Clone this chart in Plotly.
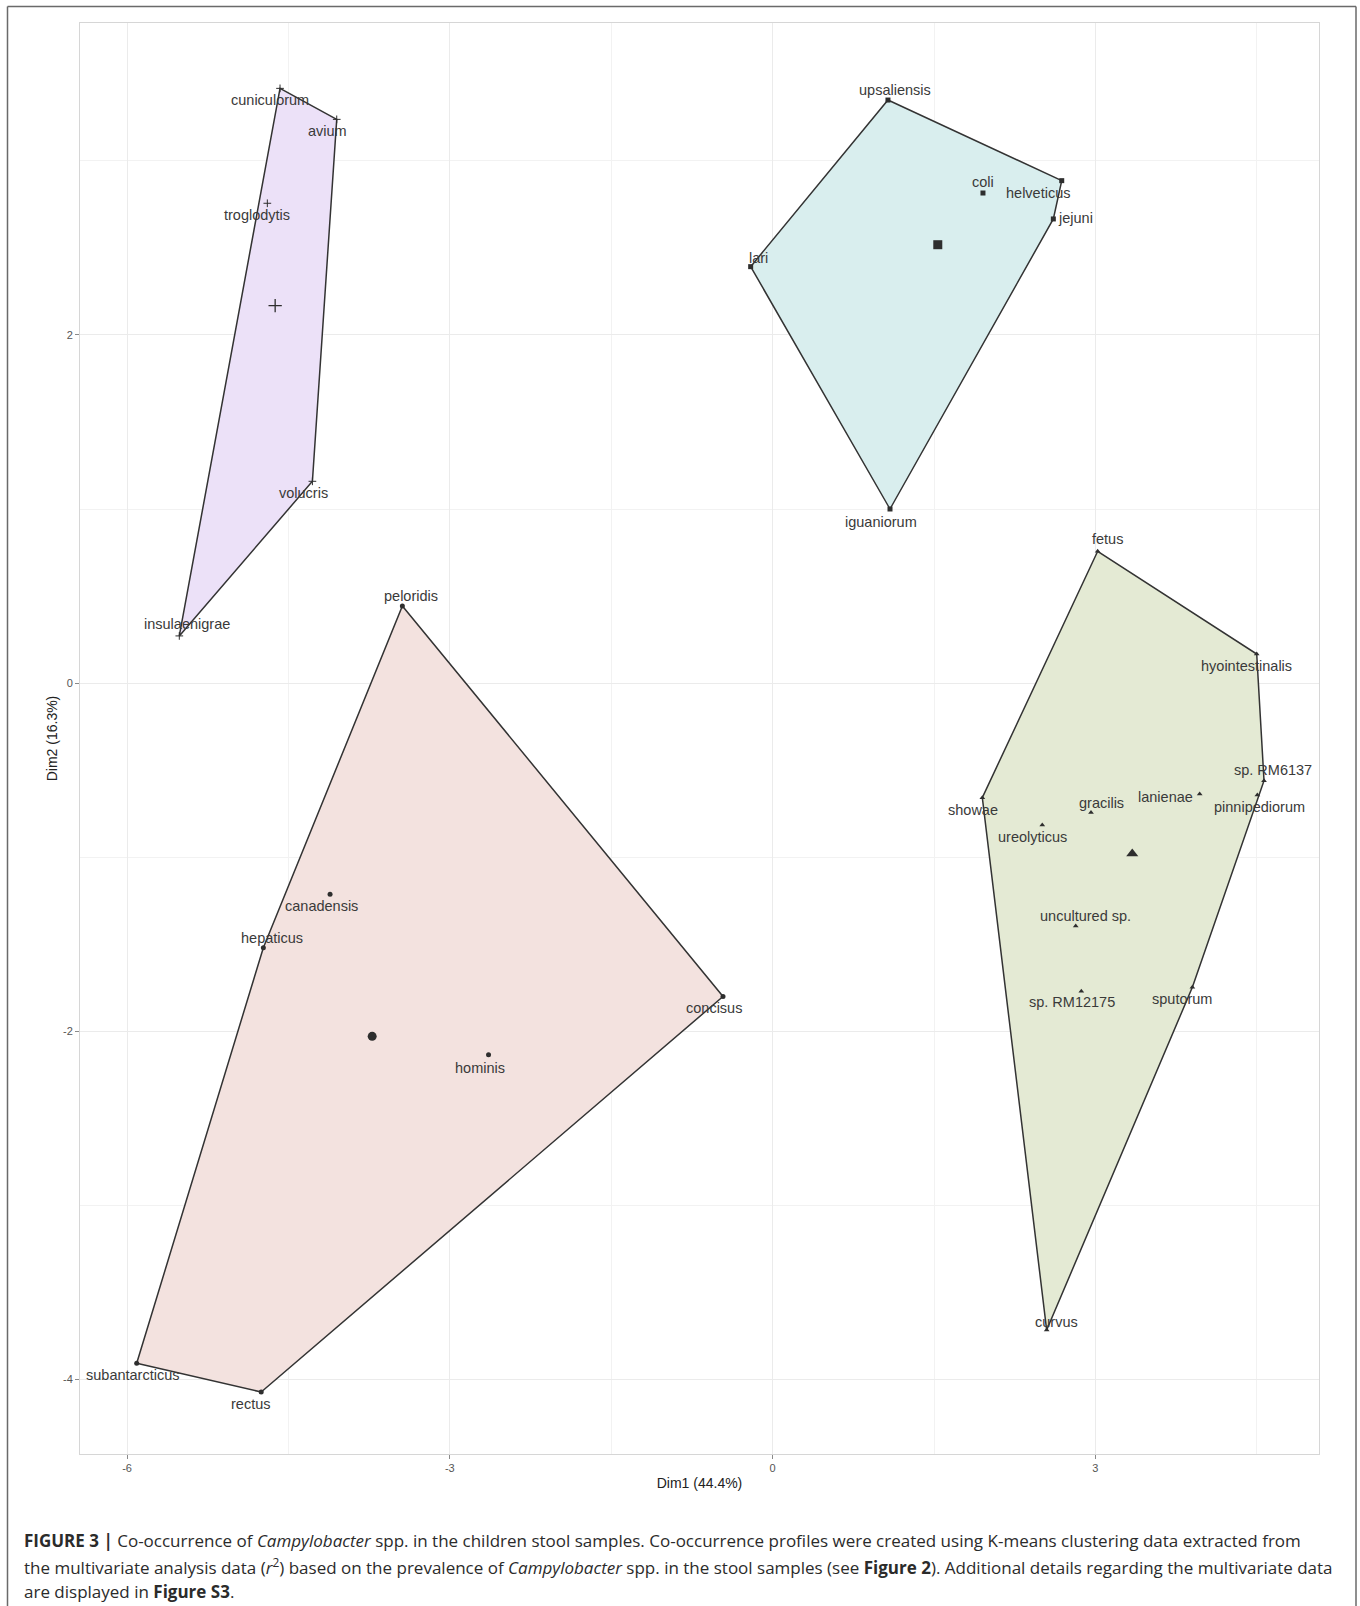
import plotly.graph_objects as go

# ---------------- data ----------------
purple_names = ["cuniculorum", "avium", "troglodytis", "volucris", "insulaenigrae"]
purple_x = [-4.578, -4.051, -4.696, -4.277, -5.514]
purple_y = [3.416, 3.238, 2.756, 1.159, 0.271]

cyan_names = ["upsaliensis", "helveticus", "coli", "jejuni", "lari", "iguaniorum"]
cyan_x = [1.072, 2.687, 1.955, 2.609, -0.204, 1.091]
cyan_y = [3.349, 2.886, 2.815, 2.666, 2.392, 1.000]

red_names = ["peloridis", "canadensis", "hepaticus", "concisus", "hominis",
             "subantarcticus", "rectus"]
red_x = [-3.441, -4.113, -4.733, -0.461, -2.640, -5.910, -4.753]
red_y = [0.443, -1.213, -1.520, -1.800, -2.135, -3.907, -4.072]

green_names = ["fetus", "hyointestinalis", "sp. RM6137", "pinnipediorum", "lanienae",
               "showae", "gracilis", "ureolyticus", "uncultured sp.", "sp. RM12175",
               "sputorum", "curvus"]
green_x = [3.021, 4.499, 4.567, 4.505, 3.969, 1.949, 2.959, 2.506, 2.817, 2.869,
           3.901, 2.547]
green_y = [0.757, 0.167, -0.561, -0.643, -0.637, -0.658, -0.744, -0.815, -1.395,
           -1.770, -1.747, -3.716]

x_ticks = [-6, -3, 0, 3]
y_ticks = [-4, -2, 0, 2]
x_title = "Dim1 (44.4%)"
y_title = "Dim2 (16.3%)"

caption_lines = [
    "<b>FIGURE 3 |</b> Co-occurrence of <i>Campylobacter</i> spp. in the children stool samples. "
    "Co-occurrence profiles were created using K-means clustering data extracted from",
    "the multivariate analysis data (<i>r</i><sup>2</sup>) based on the prevalence of "
    "<i>Campylobacter</i> spp. in the stool samples (see <b>Figure 2</b>). Additional details "
    "regarding the multivariate data",
    "are displayed in <b>Figure S3</b>.",
]

# ---------------- styling / layout ----------------
W, H = 1360, 1606
L, R, T, B = 80, 41, 23, 152
PW, PH = W - L - R, H - T - B
X_RANGE = [-6.437, 5.078]
Y_RANGE = [-4.428, 3.7915]

FONT = "Liberation Sans, Arial, Helvetica, sans-serif"
CAP_FONT = "Open Sans, Liberation Sans, Arial, sans-serif"
LINE_COL = "#333333"
PT_COL = "#2e2e2e"

# label offsets in pixels (dx right, dy down) – placement style only
label_offsets = {
    "cuniculorum": (-10, 12), "avium": (-9, 12), "troglodytis": (-10, 12),
    "volucris": (-9, 12), "insulaenigrae": (8, -12),
    "upsaliensis": (7, -10), "helveticus": (-24, 12), "coli": (0, -11),
    "jejuni": (22, -1), "lari": (8, -9), "iguaniorum": (-9, 13),
    "peloridis": (9, -10), "canadensis": (-9, 12), "hepaticus": (9, -10),
    "concisus": (-9, 12), "hominis": (-9, 13), "subantarcticus": (-4, 12),
    "rectus": (-10, 12),
    "fetus": (10, -12), "hyointestinalis": (-10, 12), "sp. RM6137": (9, -11),
    "pinnipediorum": (2, 12), "lanienae": (-34, 3), "showae": (-9, 12),
    "gracilis": (10, -10), "ureolyticus": (-10, 12), "uncultured sp.": (10, -10),
    "sp. RM12175": (-9, 11), "sputorum": (-10, 12), "curvus": (10, -8),
}

groups = [
    dict(names=purple_names, x=purple_x, y=purple_y, fill="#ece1f8",
         symbol="cross-thin", size=5.5, csize=9.5),
    dict(names=cyan_names, x=cyan_x, y=cyan_y, fill="#d9eeee",
         symbol="square", size=5, csize=9),
    dict(names=red_names, x=red_x, y=red_y, fill="#f3e2df",
         symbol="circle", size=5, csize=9),
    dict(names=green_names, x=green_x, y=green_y, fill="#e4ead4",
         symbol="triangle-up", size=5, csize=10.5),
]


def convex_hull(xs, ys):
    pts = sorted(set(zip(xs, ys)))
    if len(pts) <= 2:
        return pts

    def cross(o, a, b):
        return (a[0] - o[0]) * (b[1] - o[1]) - (a[1] - o[1]) * (b[0] - o[0])

    lower, upper = [], []
    for p in pts:
        while len(lower) >= 2 and cross(lower[-2], lower[-1], p) <= 0:
            lower.pop()
        lower.append(p)
    for p in reversed(pts):
        while len(upper) >= 2 and cross(upper[-2], upper[-1], p) <= 0:
            upper.pop()
        upper.append(p)
    return lower[:-1] + upper[:-1]


fig = go.Figure()
annotations = []

for g in groups:
    hull = convex_hull(g["x"], g["y"])
    hx = [p[0] for p in hull] + [hull[0][0]]
    hy = [p[1] for p in hull] + [hull[0][1]]
    fig.add_trace(go.Scatter(x=hx, y=hy, mode="lines", fill="toself",
                             fillcolor=g["fill"],
                             line=dict(color=LINE_COL, width=1.5),
                             hoverinfo="skip", showlegend=False))

for g in groups:
    is_cross = g["symbol"] == "cross-thin"
    fig.add_trace(go.Scatter(
        x=g["x"], y=g["y"], mode="markers", text=g["names"], showlegend=False,
        marker=dict(symbol=g["symbol"], size=g["size"], color=PT_COL,
                    line=dict(color=PT_COL, width=1 if is_cross else 0))))
    cx = sum(g["x"]) / len(g["x"])
    cy = sum(g["y"]) / len(g["y"])
    fig.add_trace(go.Scatter(
        x=[cx], y=[cy], mode="markers", showlegend=False,
        marker=dict(symbol=g["symbol"], size=g["csize"], color=PT_COL,
                    line=dict(color=PT_COL, width=1.3 if is_cross else 0))))
    for n, x, y in zip(g["names"], g["x"], g["y"]):
        dx, dy = label_offsets.get(n, (0, -12))
        annotations.append(dict(
            x=x, y=y, xref="x", yref="y", text=n, showarrow=False,
            xshift=dx, yshift=-dy, xanchor="center", yanchor="middle",
            font=dict(family=FONT, size=14.5, color="#3a3a3a")))


def px_x(px):
    return (px - L) / PW


def px_y(py):
    return (H - B - py) / PH


# caption
cap_y = [1540, 1566, 1591]
for line, py in zip(caption_lines, cap_y):
    annotations.append(dict(
        x=px_x(22), y=px_y(py), xref="paper", yref="paper", text=line,
        showarrow=False, xanchor="left", yanchor="middle",
        font=dict(family=CAP_FONT, size=17, color="#2b2b2b")))

# outer frame (left, top, right)
frame_col = "#6a6a6a"
shapes = [
    dict(type="line", xref="paper", yref="paper", x0=px_x(7.5), x1=px_x(7.5),
         y0=px_y(6.5), y1=px_y(1640), line=dict(color=frame_col, width=1.5)),
    dict(type="line", xref="paper", yref="paper", x0=px_x(7.5), x1=px_x(1356),
         y0=px_y(6.5), y1=px_y(6.5), line=dict(color=frame_col, width=1.5)),
    dict(type="line", xref="paper", yref="paper", x0=px_x(1356), x1=px_x(1356),
         y0=px_y(6.5), y1=px_y(1640), line=dict(color=frame_col, width=1.5)),
]

axis_common = dict(
    showgrid=True, gridcolor="#ebebeb", gridwidth=1.2, zeroline=False,
    showline=True, linecolor="#d6d6d6", linewidth=1, mirror=True,
    ticks="outside", ticklen=4, tickwidth=1, tickcolor="#8a8a8a",
    tickfont=dict(family=FONT, size=11, color="#555555"),
)

fig.update_layout(
    width=W, height=H,
    margin=dict(l=L, r=R, t=T, b=B, autoexpand=False),
    paper_bgcolor="white", plot_bgcolor="white",
    showlegend=False,
    xaxis=dict(range=X_RANGE, tickvals=x_ticks, ticktext=[str(v) for v in x_ticks],
               title=dict(text=x_title, standoff=4,
                          font=dict(family=FONT, size=14, color="#222222")),
               minor=dict(showgrid=True, gridcolor="#f2f2f2", gridwidth=1,
                          tick0=-4.5, dtick=3),
               **axis_common),
    yaxis=dict(range=Y_RANGE, tickvals=y_ticks, ticktext=[str(v) for v in y_ticks],
               title=dict(text=y_title, standoff=2,
                          font=dict(family=FONT, size=14, color="#222222")),
               minor=dict(showgrid=True, gridcolor="#f2f2f2", gridwidth=1,
                          tick0=-3, dtick=2),
               **axis_common),
    annotations=annotations,
    shapes=shapes,
)

fig.write_html("out.html")
